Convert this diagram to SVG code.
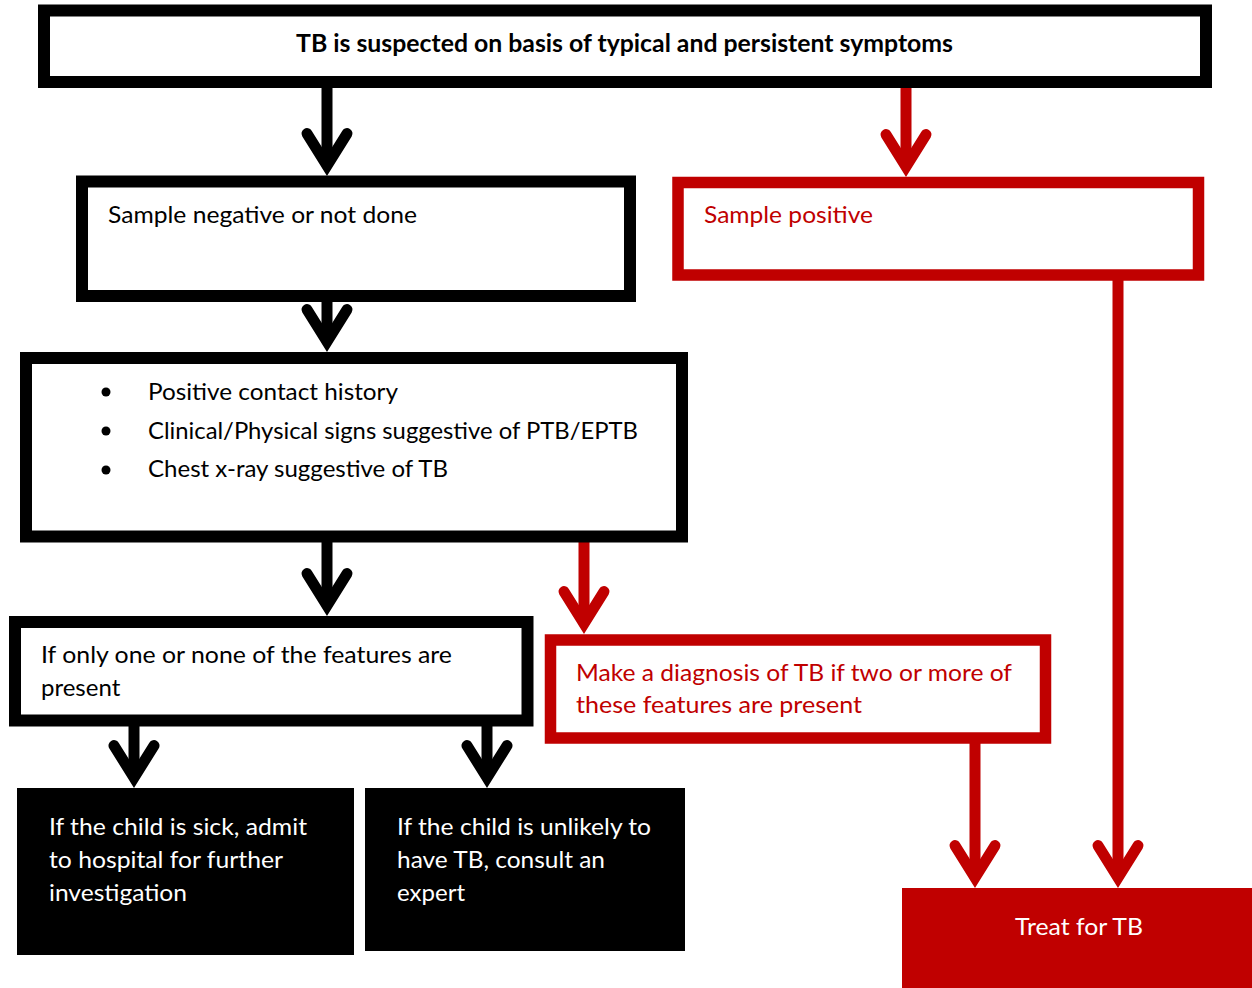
<svg xmlns="http://www.w3.org/2000/svg" width="1252" height="988" viewBox="0 0 1252 988">
  <defs>
    <style>
      .t { font-family: Lato, "Open Sans", "Liberation Sans", sans-serif; font-size: 24px; }
      .b { font-weight: bold; }
      .k { fill: #000; }
      .r { fill: #C00000; }
      .w { fill: #fff; }
      .box-k { fill: #fff; stroke: #000; stroke-width: 12; }
      .box-r { fill: #fff; stroke: #C00000; stroke-width: 11.5; }
      .ln-k { stroke: #000; stroke-width: 11; fill: none; marker-end: url(#chev-k); }
      .ln-r { stroke: #C00000; stroke-width: 11; fill: none; marker-end: url(#chev-r); }
    </style>
    <!-- open chevron arrowheads, tip at the line end -->
    <marker id="chev-k" markerUnits="userSpaceOnUse" orient="auto" refX="0" refY="0" markerWidth="1" markerHeight="1" overflow="visible">
      <path d="M-32,-20 L0,0 L-32,20" fill="none" stroke="#000" stroke-width="11" stroke-linecap="round" stroke-linejoin="miter"/>
    </marker>
    <marker id="chev-r" markerUnits="userSpaceOnUse" orient="auto" refX="0" refY="0" markerWidth="1" markerHeight="1" overflow="visible">
      <path d="M-32,-20 L0,0 L-32,20" fill="none" stroke="#C00000" stroke-width="11" stroke-linecap="round" stroke-linejoin="miter"/>
    </marker>
  </defs>

  <rect width="1252" height="988" fill="#fff"/>

  <g id="connectors">
    <line class="ln-k" x1="327" y1="75" x2="327" y2="165.6"/>
    <line class="ln-k" x1="327" y1="300" x2="327" y2="341.6"/>
    <line class="ln-k" x1="327" y1="536" x2="327" y2="605.6"/>
    <line class="ln-k" x1="134" y1="720" x2="134" y2="777.6"/>
    <line class="ln-k" x1="487" y1="720" x2="487" y2="777.6"/>
    <line class="ln-r" x1="906" y1="76" x2="906" y2="166.6"/>
    <line class="ln-r" x1="584" y1="537" x2="584" y2="623.6"/>
    <line class="ln-r" x1="975" y1="740" x2="975" y2="877.6"/>
    <line class="ln-r" x1="1118" y1="277" x2="1118" y2="877.6"/>
  </g>

  <g id="suspected">
    <rect class="box-k" x="44" y="10.5" width="1162" height="71.5"/>
    <text class="t b k" x="296" y="52" textLength="657" lengthAdjust="spacingAndGlyphs">TB is suspected on basis of typical and persistent symptoms</text>
  </g>

  <g id="sample-negative">
    <rect class="box-k" x="82" y="181.5" width="548" height="114.5"/>
    <text class="t k" x="108" y="223" textLength="309" lengthAdjust="spacingAndGlyphs">Sample negative or not done</text>
  </g>

  <g id="sample-positive">
    <rect class="box-r" x="678" y="182.5" width="520.5" height="92.5"/>
    <text class="t r" x="704" y="223" textLength="169" lengthAdjust="spacingAndGlyphs">Sample positive</text>
  </g>

  <g id="features">
    <rect class="box-k" x="26" y="358" width="656" height="178.5"/>
    <circle class="k" cx="106" cy="392" r="4.5"/>
    <circle class="k" cx="106" cy="431" r="4.5"/>
    <circle class="k" cx="106" cy="470" r="4.5"/>
    <text class="t k" x="148" y="400" textLength="250" lengthAdjust="spacingAndGlyphs">Positive contact history</text>
    <text class="t k" x="148" y="439" textLength="490" lengthAdjust="spacingAndGlyphs">Clinical/Physical signs suggestive of PTB/EPTB</text>
    <text class="t k" x="148" y="477" textLength="300" lengthAdjust="spacingAndGlyphs">Chest x-ray suggestive of TB</text>
  </g>

  <g id="one-or-none">
    <rect class="box-k" x="15" y="622" width="512.5" height="98.5"/>
    <text class="t k" x="41" y="663" textLength="411" lengthAdjust="spacingAndGlyphs">If only one or none of the features are</text>
    <text class="t k" x="41" y="696">present</text>
  </g>

  <g id="diagnosis">
    <rect class="box-r" x="550.5" y="640" width="495" height="98"/>
    <text class="t r" x="576" y="681" textLength="436" lengthAdjust="spacingAndGlyphs">Make a diagnosis of TB if two or more of</text>
    <text class="t r" x="576" y="713" textLength="286" lengthAdjust="spacingAndGlyphs">these features are present</text>
  </g>

  <g id="admit">
    <rect class="k" x="17" y="788" width="337" height="167"/>
    <text class="t w" x="49" y="835" textLength="258" lengthAdjust="spacingAndGlyphs">If the child is sick, admit</text>
    <text class="t w" x="49" y="868" textLength="234" lengthAdjust="spacingAndGlyphs">to hospital for further</text>
    <text class="t w" x="49" y="901" textLength="138" lengthAdjust="spacingAndGlyphs">investigation</text>
  </g>

  <g id="consult">
    <rect class="k" x="365" y="788" width="320" height="163"/>
    <text class="t w" x="397" y="835" textLength="254" lengthAdjust="spacingAndGlyphs">If the child is unlikely to</text>
    <text class="t w" x="397" y="868" textLength="208" lengthAdjust="spacingAndGlyphs">have TB, consult an</text>
    <text class="t w" x="397" y="901" textLength="68" lengthAdjust="spacingAndGlyphs">expert</text>
  </g>

  <g id="treat">
    <rect class="r" x="902" y="888" width="350" height="100"/>
    <text class="t w" x="1015" y="935" textLength="128" lengthAdjust="spacingAndGlyphs">Treat for TB</text>
  </g>
</svg>
